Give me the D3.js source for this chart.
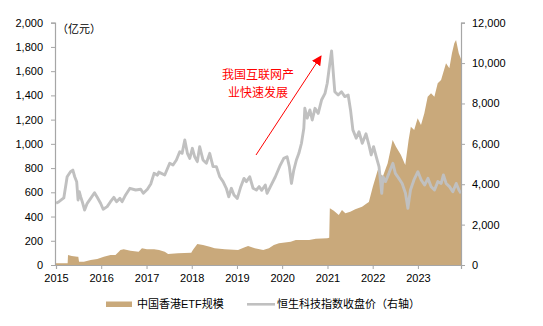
<!DOCTYPE html>
<html><head><meta charset="utf-8">
<script src="https://cdn.jsdelivr.net/npm/d3@7"></script>
<style>
html,body{margin:0;padding:0;background:#fff;}
svg{display:block;font-family:"Liberation Sans",Arial,"Noto Sans CJK SC",sans-serif;}
.cjk{font-family:"Liberation Sans","Noto Sans CJK SC",sans-serif;}
</style></head>
<body>
<svg id="chart" width="543" height="326"></svg>
<script>
// ETF size (left axis, 亿元)
const etfDates = ["2015-01-01","2015-03-19","2015-04-05","2015-04-08","2015-05-08","2015-06-22","2015-06-30","2015-07-06","2015-08-14","2015-10-08","2015-11-30","2016-01-22","2016-03-16","2016-04-25","2016-05-22","2016-06-04","2016-07-01","2016-08-24","2016-10-29","2016-11-25","2017-01-04","2017-03-03","2017-04-12","2017-05-28","2017-06-24","2017-09-12","2017-12-28","2018-01-10","2018-02-15","2018-04-02","2018-05-26","2018-07-05","2018-09-24","2019-01-10","2019-03-05","2019-04-01","2019-05-25","2019-08-01","2019-09-16","2019-10-26","2019-12-06","2020-03-10","2020-04-20","2020-08-06","2020-09-29","2020-12-30","2021-01-15","2021-01-20","2021-02-21","2021-04-02","2021-04-28","2021-05-25","2021-07-04","2021-08-13","2021-10-07","2021-11-16","2021-12-01","2022-01-02","2022-02-11","2022-03-23","2022-05-02","2022-06-11","2022-07-08","2022-08-17","2022-09-21","2022-10-18","2022-11-05","2022-12-02","2022-12-30","2023-01-26","2023-02-22","2023-03-21","2023-04-17","2023-05-14","2023-06-10","2023-07-07","2023-08-16","2023-09-12","2023-10-03","2023-10-22","2023-11-05","2023-11-27","2023-12-15"];
const etfValues = [14,14,14,83,74,69,69,27,27,41,50,69,83,83,110,124,130,118,110,138,130,130,124,110,91,96,102,124,173,165,151,138,130,124,146,157,138,124,138,165,179,192,206,206,217,220,225,468,448,413,454,427,440,460,481,509,520,646,784,729,839,1032,976,908,825,1032,1142,1114,1211,1156,1252,1389,1417,1389,1500,1527,1665,1624,1747,1830,1857,1747,1700];

// Hang Seng TECH index close (right axis)
const idxDates = ["2015-01-02","2015-01-25","2015-03-05","2015-04-01","2015-04-28","2015-05-17","2015-06-01","2015-06-17","2015-06-28","2015-07-08","2015-07-19","2015-08-01","2015-08-20","2015-09-10","2015-10-08","2015-11-08","2015-11-30","2015-12-27","2016-01-17","2016-02-18","2016-03-16","2016-04-12","2016-05-04","2016-05-31","2016-06-18","2016-07-16","2016-08-20","2016-10-05","2016-11-15","2016-12-06","2017-01-08","2017-02-04","2017-03-03","2017-03-30","2017-04-10","2017-05-01","2017-05-28","2017-07-07","2017-08-03","2017-08-30","2017-09-26","2017-10-15","2017-11-06","2017-11-27","2017-12-16","2018-01-06","2018-01-25","2018-02-15","2018-03-06","2018-04-02","2018-04-29","2018-05-26","2018-06-22","2018-07-19","2018-08-15","2018-09-11","2018-10-07","2018-10-27","2018-11-17","2018-12-08","2019-01-04","2019-02-01","2019-02-27","2019-03-18","2019-04-14","2019-05-11","2019-06-07","2019-06-29","2019-07-20","2019-08-18","2019-09-01","2019-09-28","2019-11-07","2019-12-17","2020-01-14","2020-02-10","2020-02-28","2020-03-16","2020-04-04","2020-04-25","2020-05-15","2020-06-05","2020-06-24","2020-07-02","2020-07-21","2020-08-12","2020-08-31","2020-09-22","2020-10-18","2020-11-14","2020-12-12","2020-12-30","2021-01-13","2021-02-03","2021-02-17","2021-03-01","2021-03-28","2021-04-24","2021-05-21","2021-06-17","2021-07-06","2021-07-25","2021-08-21","2021-09-12","2021-10-09","2021-11-08","2021-12-02","2021-12-20","2022-01-08","2022-01-30","2022-02-21","2022-03-15","2022-03-25","2022-04-14","2022-05-12","2022-06-13","2022-07-03","2022-07-31","2022-08-27","2022-09-23","2022-10-12","2022-11-02","2022-11-30","2023-01-01","2023-01-28","2023-02-24","2023-03-23","2023-04-18","2023-05-15","2023-06-11","2023-07-08","2023-07-26","2023-08-17","2023-09-13","2023-10-10","2023-11-06","2023-11-28","2023-12-15"];
const idxValues = [3056,3135,3320,4370,4620,4700,4370,4125,3220,3630,3380,3135,2720,3056,3300,3580,3350,3056,2760,2890,3135,3350,3135,3300,3135,3470,3800,3715,3750,3550,3750,4010,4540,4450,4600,4540,4460,5040,4950,5200,5610,5530,6190,5530,5280,5780,5360,5120,5860,5200,5040,5530,4870,4870,4370,4130,3800,3380,3800,3470,3300,3880,4290,4130,4370,3800,3715,3880,3700,3960,3550,3880,4370,4950,5280,5360,4870,4040,4700,5200,5530,6030,6770,7760,7270,7680,7180,7760,7510,8170,8500,9000,9660,10600,9500,8580,8420,8580,8340,8420,7680,6690,6280,6600,6030,6500,5940,5450,5860,5360,4870,3550,4370,4130,4540,5040,4540,4290,4040,3550,2810,3715,4210,4620,4210,3960,4290,3880,3715,4130,4040,4460,4040,3880,3630,4040,3715,3550];

const leftTicks = [0,200,400,600,800,1000,1200,1400,1600,1800,2000];
const rightTicks = [0,2000,4000,6000,8000,10000,12000];
const yearTicks = ["2015","2016","2017","2018","2019","2020","2021","2022","2023"];
const seriesNames = ["中国香港ETF规模","恒生科技指数收盘价（右轴）"];
const unitLabel = "（亿元）";
const noteLines = ["我国互联网产","业快速发展"];

const parse = d3.timeParse("%Y-%m-%d");
const etf = etfDates.map((d,i)=>({date:parse(d), v:etfValues[i]}));
const idx = idxDates.map((d,i)=>({date:parse(d), v:idxValues[i]}));

const svg = d3.select("#chart");
const L = 55, R = 461, T = 22.7, B = 265;

const x = d3.scaleTime().domain([parse("2015-01-01"), parse("2023-12-15")]).range([L+1, R]);
const yL = d3.scaleLinear().domain([0,2000]).range([B,T]);
const yR = d3.scaleLinear().domain([0,12000]).range([B,T]);

const areaColor = "#C9A97B", lineColor = "#C0C0C0", axisColor = "#A6A6A6";

svg.append("path").datum(etf)
  .attr("fill", areaColor)
  .attr("d", d3.area().x(d=>x(d.date)).y0(B).y1(d=>yL(d.v)));

svg.append("path").datum(idx)
  .attr("fill","none").attr("stroke",lineColor).attr("stroke-width",2.9)
  .attr("stroke-linejoin","round")
  .attr("d", d3.line().x(d=>x(d.date)).y(d=>yR(d.v)));

function styleAxis(g){
  g.selectAll(".domain").attr("stroke",axisColor).attr("stroke-width",1.2);
  g.selectAll(".tick line").attr("stroke",axisColor).attr("stroke-width",1);
  g.selectAll(".tick text").attr("fill","#000").style("font-size","11px").style("font-family",'"Liberation Sans",Arial,sans-serif');
}

svg.append("g").attr("transform",`translate(${L},0)`)
  .call(d3.axisLeft(yL).tickValues(leftTicks).tickFormat(d3.format(",")).tickSizeOuter(0).tickSize(4).tickPadding(8))
  .call(styleAxis);

svg.append("g").attr("transform",`translate(${R},0)`)
  .call(d3.axisRight(yR).tickValues(rightTicks).tickFormat(d3.format(",")).tickSizeOuter(0).tickSize(4).tickPadding(7))
  .call(styleAxis);

svg.append("g").attr("transform",`translate(0,${B})`)
  .call(d3.axisBottom(x).tickValues(yearTicks.map(y=>d3.timeParse("%Y")(y))).tickFormat(d3.timeFormat("%Y")).tickSizeOuter(0).tickSize(4).tickPadding(5))
  .call(styleAxis);

svg.append("text").attr("class","cjk").attr("x",57).attr("y",33)
  .style("font-size","11px").attr("fill","#000").text(unitLabel);

// annotation
const note = svg.append("text").attr("class","cjk").attr("text-anchor","middle")
  .style("font-size","12px").attr("fill","#FF0000");
noteLines.forEach((t,i)=>note.append("tspan").attr("x",258).attr("y",79+i*18).text(t));

svg.append("defs").append("marker").attr("id","arr")
  .attr("viewBox","0 0 10 10").attr("refX",9).attr("refY",5)
  .attr("markerWidth",10).attr("markerHeight",10).attr("markerUnits","userSpaceOnUse")
  .attr("orient","auto")
  .append("path").attr("d","M0,0 L10,5 L0,10 Z").attr("fill","#FF0000");
svg.append("line").attr("x1",256).attr("y1",155).attr("x2",321).attr("y2",56)
  .attr("stroke","#FF0000").attr("stroke-width",1).attr("marker-end","url(#arr)");

// legend
const lg = svg.append("g");
lg.append("rect").attr("x",106).attr("y",301.5).attr("width",26).attr("height",5.5).attr("fill",areaColor);
lg.append("text").attr("class","cjk").attr("x",137).attr("y",308).style("font-size","11px").attr("fill","#000").text(seriesNames[0]);
lg.append("line").attr("x1",247).attr("x2",275).attr("y1",304.3).attr("y2",304.3).attr("stroke",lineColor).attr("stroke-width",2.6);
lg.append("text").attr("class","cjk").attr("x",277).attr("y",308).style("font-size","11px").attr("fill","#000").text(seriesNames[1]);
</script>
</body></html>
